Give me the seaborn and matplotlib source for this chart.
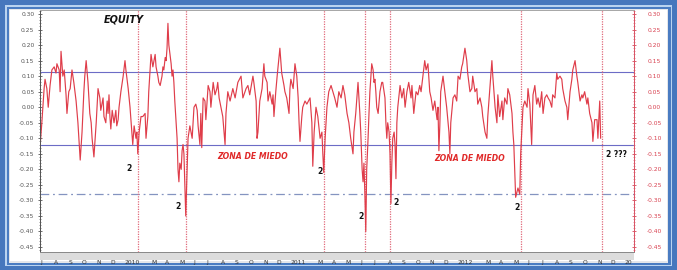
import numpy as np
import pandas as pd
import matplotlib
matplotlib.use("Agg")
import matplotlib.pyplot as plt
import matplotlib.transforms as mtransforms
from matplotlib.patches import Rectangle
from matplotlib.ticker import MultipleLocator, FormatStrFormatter
import seaborn as sns

# ---------------- data ----------------
start_date = "2009-07-01"
day_offsets = [
    0, 4, 9, 11, 15, 18, 22, 26, 31, 35, 37, 42, 44, 46, 50, 53, 57, 59, 63, 66,
    70, 74, 79, 83, 85, 88, 92, 96, 98, 101, 105, 107, 109, 112, 114, 118, 123, 127, 131, 133,
    138, 140, 144, 147, 149, 151, 153, 155, 158, 162, 166, 168, 171, 173, 177, 182, 186, 188, 193, 197,
    201, 203, 206, 210, 212, 214, 217, 221, 225, 230, 232, 236, 238, 241, 243, 247, 252, 254, 258, 260,
    263, 267, 269, 271, 274, 276, 278, 280, 282, 287, 289, 291, 293, 295, 298, 300, 302, 304, 306, 309,
    311, 313, 315, 317, 319, 322, 324, 328, 333, 337, 341, 344, 346, 350, 352, 354, 357, 361, 363, 368,
    372, 374, 379, 383, 387, 389, 392, 396, 400, 405, 407, 411, 416, 422, 427, 433, 440, 444, 451, 455,
    459, 466, 468, 473, 475, 477, 481, 486, 490, 492, 497, 499, 503, 508, 510, 512, 516, 519, 525, 527,
    529, 534, 536, 540, 545, 547, 549, 554, 558, 562, 565, 567, 569, 573, 575, 580, 584, 591, 595, 597,
    600, 604, 608, 613, 617, 619, 621, 624, 628, 632, 637, 641, 645, 650, 654, 659, 663, 667, 672, 676,
    680, 685, 687, 691, 694, 696, 700, 702, 705, 707, 709, 711, 713, 715, 718, 720, 722, 726, 729, 731,
    733, 735, 737, 740, 744, 748, 750, 755, 757, 759, 761, 764, 766, 768, 770, 772, 775, 777, 779, 781,
    783, 788, 792, 796, 799, 803, 807, 812, 814, 818, 823, 827, 831, 834, 838, 842, 845, 849, 853, 856,
    860, 864, 869, 871, 873, 875, 877, 882, 886, 890, 895, 897, 899, 904, 908, 912, 915, 919, 923, 925,
    930, 934, 936, 941, 945, 947, 952, 956, 958, 963, 967, 969, 974, 978, 980, 984, 989, 991, 996, 1000,
    1002, 1006, 1011, 1013, 1017, 1022, 1024, 1028, 1033, 1035, 1037, 1041, 1046, 1050, 1052, 1057, 1061, 1066, 1068, 1072,
    1076, 1079, 1083, 1087, 1090, 1094, 1098, 1101, 1105, 1109, 1112, 1116, 1120, 1122, 1127, 1131, 1133, 1138, 1142, 1144,
    1149, 1153, 1155, 1160, 1164, 1166, 1171, 1175, 1177, 1182, 1186, 1188, 1192, 1197, 1199, 1203, 1208, 1210, 1214, 1219,
    1221, 1225, 1227,
]
equity = [
    -0.13, -0.05, 0.06, 0.09, 0.06, 0.00, 0.07, 0.12, 0.13, 0.11, 0.14, 0.12, 0.05, 0.18, 0.10, 0.12, 0.04, -0.02, 0.05, 0.06,
    0.12, 0.08, 0.02, -0.05, -0.10, -0.17, -0.08, 0.05, 0.10, 0.15, 0.08, 0.03, -0.02, -0.05, -0.10, -0.16, -0.05, 0.06, 0.03, -0.01,
    0.03, -0.03, -0.05, 0.02, -0.02, 0.04, -0.03, -0.07, -0.01, -0.05, -0.01, -0.06, -0.04, 0.00, 0.05, 0.10, 0.15, 0.12, 0.06, 0.00,
    -0.08, -0.12, -0.06, -0.10, -0.08, -0.15, -0.08, -0.03, -0.03, -0.02, -0.10, -0.03, 0.05, 0.12, 0.17, 0.13, 0.17, 0.13, 0.10, 0.08,
    0.07, 0.10, 0.13, 0.12, 0.16, 0.15, 0.19, 0.27, 0.20, 0.14, 0.10, 0.12, 0.08, 0.02, -0.05, -0.10, -0.20, -0.24, -0.18, -0.20,
    -0.14, -0.12, -0.15, -0.25, -0.35, -0.20, -0.10, -0.06, -0.10, 0.00, 0.01, -0.01, -0.06, -0.12, -0.02, -0.13, 0.03, 0.02, -0.04, 0.07,
    0.05, 0.00, 0.08, 0.04, 0.06, 0.08, 0.03, 0.00, -0.03, -0.12, -0.02, 0.05, 0.02, 0.06, 0.03, 0.08, 0.10, 0.03, 0.06, 0.07,
    0.04, 0.10, 0.08, 0.02, -0.10, -0.08, 0.02, 0.06, 0.14, 0.10, 0.08, 0.02, 0.05, 0.01, 0.04, -0.03, 0.05, 0.10, 0.19, 0.15,
    0.11, 0.07, 0.05, 0.03, -0.02, 0.06, 0.09, 0.06, 0.14, 0.10, 0.03, -0.05, -0.11, -0.03, 0.00, 0.02, 0.01, 0.03, -0.05, -0.19,
    -0.08, 0.00, -0.03, -0.10, -0.08, -0.15, -0.21, -0.10, 0.00, 0.05, 0.07, 0.05, 0.03, 0.00, 0.05, 0.03, 0.07, 0.04, -0.02, -0.05,
    -0.10, -0.15, -0.08, -0.02, 0.04, 0.08, -0.02, -0.08, -0.20, -0.24, -0.18, -0.28, -0.40, -0.20, -0.10, -0.02, 0.05, 0.14, 0.12, 0.08,
    0.09, 0.05, 0.00, -0.02, 0.05, 0.08, 0.08, 0.03, -0.05, -0.10, -0.05, -0.08, -0.15, -0.31, -0.18, -0.10, -0.08, -0.12, -0.23, -0.05,
    0.00, 0.07, 0.03, 0.06, 0.00, 0.05, 0.08, 0.03, 0.07, -0.02, 0.05, 0.04, 0.07, 0.05, 0.10, 0.15, 0.12, 0.14, 0.05, 0.03,
    -0.01, 0.02, -0.04, 0.00, -0.14, -0.06, 0.05, 0.10, 0.05, 0.00, -0.08, -0.15, -0.05, 0.03, 0.04, 0.02, 0.10, 0.09, 0.13, 0.14,
    0.19, 0.15, 0.11, 0.05, 0.06, 0.10, 0.05, 0.06, 0.01, 0.03, 0.00, -0.03, -0.08, -0.10, -0.03, 0.05, 0.15, 0.10, 0.00, -0.05,
    0.04, -0.03, 0.02, -0.04, 0.03, 0.01, 0.06, 0.04, -0.02, -0.08, -0.12, -0.29, -0.26, -0.28, -0.15, 0.00, 0.02, 0.00, 0.06, 0.01,
    -0.12, 0.04, 0.07, 0.01, 0.03, 0.00, 0.05, -0.02, 0.03, 0.04, 0.03, 0.02, 0.00, 0.04, 0.03, 0.11, 0.09, 0.10, 0.09, 0.06,
    0.02, 0.00, -0.04, 0.05, 0.09, 0.12, 0.15, 0.10, 0.08, 0.02, 0.04, 0.03, 0.05, 0.01, 0.03, -0.02, -0.05, -0.11, -0.04, -0.04,
    -0.10, 0.02, -0.10,
]
signal_dates = ["2010-01-31", "2010-05-16", "2011-03-14", "2011-06-13",
                "2011-08-07", "2012-05-18", "2012-11-12"]
upper_band = 0.115
lower_band = -0.12
fear_level = -0.28
y_ticks = [0.30, 0.25, 0.20, 0.15, 0.10, 0.05, 0.00, -0.05, -0.10,
           -0.15, -0.20, -0.25, -0.30, -0.35, -0.40, -0.45]
month_labels = (["J", "A", "S", "O", "N", "D"]
                + ["2010", "", "M", "A", "M", "J", "J", "A", "S", "O", "N", "D"]
                + ["2011", "", "M", "A", "M", "J", "J", "A", "S", "O", "N", "D"]
                + ["2012", "", "M", "A", "M", "J", "J", "A", "S", "O", "N", "D"]
                + ["20"])
title_text = "EQUITY"
zone_text = "ZONA DE MIEDO"
mark_labels = ["2", "2", "2", "2", "2", "2", "2 ???"]

# ---------------- figure ----------------
sns.set_style("white")
plt.rcParams["font.family"] = ["DejaVu Sans"]

W, H = 677, 270
fig = plt.figure(figsize=(W / 100, H / 100), dpi=100, facecolor="#4677bd")


def frame_rect(x0, y0, x1, y1, color, z):
    fig.add_artist(Rectangle((x0 / W, 1 - y1 / H), (x1 - x0) / W, (y1 - y0) / H,
                             transform=fig.transFigure, facecolor=color,
                             edgecolor="none", zorder=z))


frame_rect(5, 5, 672, 266, "#b9d3f0", -10)
frame_rect(6.5, 6.5, 670.5, 264.5, "#4a7cc2", -9)
frame_rect(8.5, 8.5, 668, 262.5, "#e4e6ea", -8)
frame_rect(10, 10, 666.5, 260.5, "#ffffff", -7)
frame_rect(40, 252, 634, 259.5, "#dcdcdc", -6)

ax = fig.add_axes([40 / W, 1 - 252 / H, 594 / W, 242 / H])
ax.set_facecolor("white")

dates = pd.Timestamp(start_date) + pd.to_timedelta(day_offsets, unit="D")
df = pd.DataFrame({"date": dates, "equity": equity})

sns.lineplot(data=df, x="date", y="equity", ax=ax, color="#df3d4a",
             linewidth=0.85, zorder=5)

ax.axhline(upper_band, color="#6c6cc6", lw=0.8, zorder=3)
ax.axhline(lower_band, color="#6c6cc6", lw=0.8, zorder=3)
ax.axhline(fear_level, color="#8494c0", lw=0.9, ls=(0, (7, 3, 1.5, 3)), zorder=3)
for d in signal_dates:
    ax.axvline(pd.Timestamp(d), color="#e06a7a", lw=0.9, ls=(0, (1, 1)), zorder=4)

ax.set_xlim(pd.Timestamp("2009-07-01"), pd.Timestamp("2013-01-21"))
ax.set_ylim(-0.466, 0.313)

month_starts = pd.date_range("2009-07-01", "2013-01-01", freq="MS")
ax.set_xticks(month_starts)
ax.set_xticklabels(month_labels)
offset = mtransforms.ScaledTranslation(2.2 / 100, 0, fig.dpi_scale_trans)
for lab in ax.get_xticklabels():
    lab.set_horizontalalignment("left")
    lab.set_transform(lab.get_transform() + offset)
ax.tick_params(axis="x", direction="out", length=5.5, width=0.6, color="#7a7a7a",
               labelsize=4.3, labelcolor="#333333", pad=0.6)

ax.set_yticks(y_ticks)
ax.yaxis.set_major_formatter(FormatStrFormatter("%.2f"))
ax.yaxis.set_minor_locator(MultipleLocator(0.01))
ax.tick_params(axis="y", which="major", direction="inout", length=3, width=0.6,
               color="#555555", labelsize=4.3, labelcolor="#555555", pad=2.5)
ax.tick_params(axis="y", which="minor", direction="inout", length=1.6, width=0.5,
               color="#666666")
ax.set_xlabel("")
ax.set_ylabel("")

ax2 = ax.twinx()
ax2.set_ylim(ax.get_ylim())
ax2.set_yticks(y_ticks)
ax2.yaxis.set_major_formatter(FormatStrFormatter("%.2f"))
ax2.yaxis.set_minor_locator(MultipleLocator(0.01))
ax2.tick_params(axis="y", which="major", direction="inout", length=3, width=0.6,
                color="#d84a5a", labelsize=4.3, labelcolor="#d8404f", pad=8)
ax2.tick_params(axis="y", which="minor", direction="inout", length=1.6, width=0.5,
                color="#e07080")

for a in (ax, ax2):
    for s in a.spines.values():
        s.set_linewidth(0.7)
    a.spines["top"].set_color("#a8a8a8")
    a.spines["bottom"].set_color("#8a8a8a")
    a.spines["left"].set_color("#555555")
    a.spines["right"].set_color("#d85566")

# ---------------- annotations ----------------
ax.text(0.1414, 0.962, title_text, transform=ax.transAxes, ha="center", va="center",
        fontsize=7, fontweight="bold", fontstyle="italic", color="#111111", zorder=6)
for xf, yf in [(0.3577, 0.394), (0.7239, 0.387)]:
    ax.text(xf, yf, zone_text, transform=ax.transAxes, ha="center", va="center",
            fontsize=5.6, fontweight="bold", fontstyle="italic", color="#e02a2a", zorder=6)
mark_pos = [(0.1498, 0.343), (0.2328, 0.190), (0.4714, 0.332), (0.5399, 0.146),
            (0.5988, 0.205), (0.8025, 0.183), (0.9705, 0.404)]
for (xf, yf), lab in zip(mark_pos, mark_labels):
    ax.text(xf, yf, lab, transform=ax.transAxes, ha="center", va="center",
            fontsize=5.5, fontweight="bold", color="#111111", zorder=6)

fig.savefig("out.png", dpi=100, facecolor=fig.get_facecolor())
